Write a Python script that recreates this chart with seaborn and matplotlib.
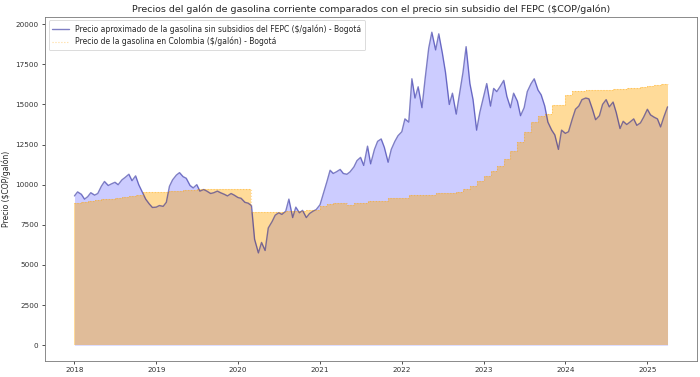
import numpy as np
import pandas as pd
import matplotlib
matplotlib.use("Agg")
import matplotlib.pyplot as plt
import matplotlib.dates as mdates
import seaborn as sns

# Semi-monthly approximate price without FEPC subsidy (Bogotá)
fepc_2018 = [9300, 9550, 9400, 9100, 9250, 9500, 9350, 9450, 9900, 10200, 9950, 10050,
             10150, 10000, 10300, 10450, 10650, 10250, 10550, 10000, 9500, 9100, 8800, 8580]
fepc_2019 = [8600, 8700, 8650, 8900, 9900, 10300, 10600, 10750, 10500, 10400, 9950, 9800,
             10000, 9600, 9700, 9600, 9450, 9500, 9600, 9500, 9400, 9300, 9450, 9350]
fepc_2020 = [9200, 9150, 8900, 8850, 8700, 6600, 5750, 6400, 5900, 7300, 7700, 8100,
             8250, 8150, 8350, 9100, 7950, 8600, 8250, 8400, 7950, 8200, 8350, 8450]
fepc_2021 = [8750, 9400, 10200, 10900, 10700, 10800, 10950, 10700, 10650, 10800, 11100, 11500,
             11700, 11200, 12400, 11300, 12200, 12700, 12850, 12330, 11400, 12200, 12700, 13050]
fepc_2022 = [13300, 14100, 13900, 16600, 15400, 16100, 14800, 16600, 18500, 19500, 18400, 19400,
             18200, 17000, 15000, 15700, 14400, 15600, 17000, 18600, 16300, 15300, 13400, 14500]
fepc_2023 = [15500, 16300, 14900, 16000, 15800, 16100, 16500, 15500, 14800, 15700, 15200, 14300,
             14800, 15800, 16300, 16600, 15900, 15600, 14900, 13900, 13400, 13100, 12200, 13400]
fepc_2024 = [13200, 13300, 14100, 14700, 14900, 15300, 15400, 15350, 14700, 14050, 14300, 15000,
             15300, 14850, 15150, 14500, 13500, 13950, 13750, 13900, 14100, 13700, 13850, 14200]
fepc_2025 = [14700, 14350, 14200, 14100, 13600, 14200, 14850]

# Monthly regulated price in Colombia (Bogotá)
price_2018 = [8880, 8920, 8970, 9030, 9080, 9130, 9180, 9230, 9280, 9350, 9560, 9560]
price_2019 = [9570, 9570, 9600, 9620, 9650, 9680, 9700, 9700, 9720, 9720, 9720, 9720]
price_2020 = [9720, 9720, 8300, 8300, 8300, 8300, 8300, 8330, 8350, 8380, 8400, 8450]
price_2021 = [8670, 8800, 8880, 8880, 8720, 8840, 8840, 8990, 8990, 8990, 9200, 9200]
price_2022 = [9200, 9340, 9340, 9340, 9340, 9510, 9510, 9510, 9550, 9720, 9925, 10240]
price_2023 = [10550, 10870, 11180, 11600, 12120, 12650, 13270, 13900, 14310, 14400, 14940, 14990]
price_2024 = [15570, 15840, 15850, 15870, 15880, 15900, 15920, 15950, 15970, 16000, 16030, 16080]
price_2025 = [16150, 16200, 16250, 16300]

fepc_values = (fepc_2018 + fepc_2019 + fepc_2020 + fepc_2021 + fepc_2022 +
               fepc_2023 + fepc_2024 + fepc_2025)
price_values = (price_2018 + price_2019 + price_2020 + price_2021 + price_2022 +
                price_2023 + price_2024 + price_2025)

fepc_dates = pd.date_range("2018-01-01", "2025-04-01", freq="SMS")
price_dates = pd.date_range("2018-01-01", "2025-04-01", freq="MS")

df_fepc = pd.DataFrame({"fecha": fepc_dates, "precio": fepc_values})
df_price = pd.DataFrame({"fecha": price_dates, "precio": price_values})

label_fepc = "Precio aproximado de la gasolina sin subsidios del FEPC ($/galón) - Bogotá"
label_price = "Precio de la gasolina en Colombia ($/galón) - Bogotá"
title = "Precios del galón de gasolina corriente comparados con el precio sin subsidio del FEPC ($COP/galón)"
ylabel = "Precio ($COP/galón)"

sns.set_style("ticks")
plt.rcParams["font.family"] = ["DejaVu Sans"]

fig = plt.figure(figsize=(7, 3.77), dpi=100)
ax = fig.add_axes([0.064, 0.043, 0.932, 0.913])

ax.fill_between(df_fepc["fecha"], df_fepc["precio"], color="blue", alpha=0.2, linewidth=0)
sns.lineplot(data=df_fepc, x="fecha", y="precio", ax=ax, color="darkblue", alpha=0.5,
             linewidth=1.0, label=label_fepc)
ax.fill_between(df_price["fecha"], df_price["precio"], step="post", color="orange",
                alpha=0.4, linewidth=0)
sns.lineplot(data=df_price, x="fecha", y="precio", ax=ax, color="orange", alpha=0.4,
             linewidth=0.8, linestyle=":", drawstyle="steps-post", label=label_price)

ax.set_title(title, fontsize=6.8, pad=3)
ax.set_ylabel(ylabel, fontsize=5.5, labelpad=3)
ax.set_xlabel("")
ax.xaxis.set_major_locator(mdates.YearLocator())
ax.xaxis.set_major_formatter(mdates.DateFormatter("%Y"))
ax.tick_params(axis="both", labelsize=5.2, length=2.5, width=0.6, pad=2, colors="#333333")
for s in ax.spines.values():
    s.set_linewidth(0.6)
    s.set_color("#777777")

leg = ax.legend(loc="upper left", fontsize=5.5, frameon=True, handlelength=2.2,
                borderpad=0.5, labelspacing=0.4)
leg.get_frame().set_edgecolor("#cccccc")
leg.get_frame().set_linewidth(0.6)

fig.savefig("out.png", dpi=100)
